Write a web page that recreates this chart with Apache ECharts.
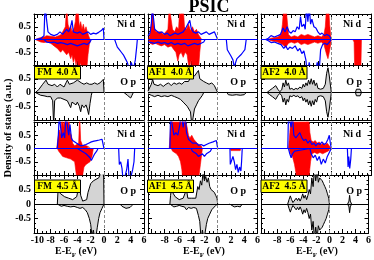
<!DOCTYPE html>
<html><head><meta charset="utf-8">
<script src="https://cdn.jsdelivr.net/npm/echarts@6/dist/echarts.min.js"></script>
<style>html,body{margin:0;padding:0;background:#fff}#c{width:374px;height:260px}</style>
</head><body><div id="c"></div>
<script>
// ---------- labels / ticks ----------
const title = 'PSIC';
const magnetic = ['FM', 'AF1', 'AF2'];
const spacing = ['4.0 Å', '4.5 Å'];
const orbitals = ['Ni d', 'O p'];
const energyTicks = [-10, -8, -6, -4, -2, 0, 2, 4, 6];
const yTitle = 'Density of states (a.u.)';

// ---------- data: [E - E_F (eV), DOS (a.u.)] ----------
// FM 4.0 Å
const fm40NiRedUp = [[-10.3,0],[-10.1,0.05],[-9.5,0.08],[-9,0.1],[-8.6,0.15],[-8.3,0.08],[-7.8,0.12],[-7.3,0.1],[-6.8,0.15],[-6.4,0.2],[-6.1,0.35],[-5.8,0.5],[-5.6,1.3],[-5.4,0.6],[-5.2,0.4],[-5.0,0.55],[-4.8,0.3],[-4.5,0.45],[-4.3,0.7],[-4.1,1.3],[-3.9,1.2],[-3.7,0.5],[-3.5,0.7],[-3.3,0.4],[-3.1,0.6],[-2.9,0.35],[-2.7,0.5],[-2.5,0.3],[-2.3,0.15],[-2.1,0]];
const fm40NiRedDn = [[-10.3,0],[-10,-0.05],[-9.5,-0.1],[-9,-0.12],[-8.5,-0.1],[-8,-0.15],[-7.5,-0.25],[-7,-0.35],[-6.5,-0.5],[-6.2,-0.4],[-5.9,-0.35],[-5.6,-0.6],[-5.3,-0.5],[-5,-0.75],[-4.8,-0.6],[-4.6,-0.9],[-4.4,-0.7],[-4.2,-1.0],[-4.0,-0.8],[-3.8,-1.2],[-3.5,-0.9],[-3.3,-1.2],[-3.0,-1.1],[-2.8,-1.3],[-2.6,-1.2],[-2.4,-0.6],[-2.2,-0.2],[-2.0,0]];
const fm40NiBlueUp = [[-10.3,0],[-10,0.03],[-9.4,0.05],[-9.0,0.15],[-8.85,1.3],[-8.6,1.3],[-8.4,0.3],[-8.0,0.2],[-7.5,0.15],[-7.0,0.2],[-6.6,0.3],[-6.2,0.2],[-5.9,0.25],[-5.6,0.4],[-5.3,0.3],[-5.0,0.5],[-4.8,0.75],[-4.6,0.3],[-4.3,0.35],[-4.0,0.25],[-3.6,0.3],[-3.2,0.2],[-2.8,0.25],[-2.4,0.3],[-2.0,0.2],[-1.6,0.25],[-1.2,0.22],[-0.8,0.28],[-0.4,0.35],[-0.1,0.45],[0,0]];
const fm40NiBlueDn = [[-9,0],[-8.6,-0.1],[-8,-0.12],[-7.5,-0.1],[-7,-0.15],[-6.5,-0.12],[-6,-0.15],[-5.5,-0.2],[-5,-0.15],[-4.5,-0.2],[-4,-0.25],[-3.5,-0.2],[-3,-0.15],[-2.5,-0.2],[-2.1,-0.1],[-1.9,0]];
const fm40NiBlueCb = [[1.6,0],[1.8,-0.15],[2.0,-0.3],[2.3,-0.4],[2.6,-0.5],[2.9,-0.6],[3.2,-0.75],[3.5,-0.9],[3.8,-1.2],[4.1,-0.9],[4.4,-1.2],[4.7,-0.8],[4.9,-0.3],[5.0,0]];
const fm40OpUp = [[-10.3,0],[-10.1,0.05],[-9.8,0.1],[-9.5,0.2],[-9.2,0.3],[-9.0,0.25],[-8.7,0.45],[-8.4,0.3],[-8.1,0.35],[-7.8,0.25],[-7.4,0.3],[-7.0,0.2],[-6.6,0.3],[-6.3,0.25],[-6.0,0.2],[-5.7,0.35],[-5.5,0.45],[-5.2,0.3],[-4.9,0.25],[-4.6,0.35],[-4.3,0.3],[-4.0,0.45],[-3.7,0.5],[-3.4,0.35],[-3.0,0.3],[-2.6,0.35],[-2.2,0.3],[-1.8,0.3],[-1.4,0.35],[-1.0,0.3],[-0.6,0.35],[-0.3,0.4],[-0.1,0.48],[0,0]];
const fm40OpDn = [[-10.3,0],[-10,-0.05],[-9.5,-0.1],[-9,-0.12],[-8.5,-0.15],[-8,-0.15],[-7.7,-0.3],[-7.55,-1.2],[-7.4,-0.3],[-7.0,-0.2],[-6.5,-0.2],[-6.0,-0.25],[-5.5,-0.3],[-5.2,-0.35],[-5.0,-0.55],[-4.8,-0.35],[-4.5,-0.3],[-4.2,-0.45],[-4.0,-0.35],[-3.7,-0.5],[-3.5,-0.7],[-3.3,-0.45],[-3.0,-0.55],[-2.7,-0.45],[-2.5,-0.6],[-2.3,-0.8],[-2.1,-0.4],[-1.9,-0.1],[-1.8,0]];
const fm40OpCb = [[3.0,0],[3.2,-0.05],[3.5,-0.1],[3.8,-0.08],[4.0,-0.2],[4.2,-0.1],[4.4,0]];
// AF1 4.0 Å
const af140NiRedUp = [[-10.4,0],[-10.2,0.2],[-10.0,0.6],[-9.8,1.3],[-9.6,0.5],[-9.3,0.3],[-9.0,0.25],[-8.6,0.3],[-8.2,0.2],[-7.8,0.3],[-7.5,0.4],[-7.3,1.3],[-7.0,1.3],[-6.8,0.4],[-6.5,0.3],[-6.2,0.5],[-5.9,0.4],[-5.7,1.3],[-5.4,1.0],[-5.2,1.3],[-5.0,0.5],[-4.7,0.4],[-4.4,0.6],[-4.1,0.35],[-3.8,0.5],[-3.5,0.3],[-3.2,0.4],[-2.9,0.2],[-2.6,0.15],[-2.4,0]];
const af140NiRedDn = [[-10.4,0],[-10.2,-0.15],[-9.8,-0.2],[-9.4,-0.15],[-9.0,-0.2],[-8.5,-0.25],[-8.0,-0.2],[-7.5,-0.3],[-7.0,-0.25],[-6.6,-0.4],[-6.3,-0.5],[-6.0,-0.85],[-5.8,-0.6],[-5.5,-0.5],[-5.2,-0.7],[-4.9,-0.5],[-4.6,-0.6],[-4.3,-1.2],[-4.0,-0.8],[-3.8,-1.2],[-3.5,-1.2],[-3.2,-1.1],[-2.9,-1.2],[-2.7,-0.5],[-2.5,0]];
const af140NiBlueUp = [[-10.5,0.15],[-10.2,0.25],[-10.0,0.6],[-9.85,1.3],[-9.65,1.3],[-9.5,0.4],[-9.2,0.35],[-8.8,0.25],[-8.4,0.3],[-8.0,0.2],[-7.6,0.25],[-7.2,0.15],[-6.8,0.2],[-6.4,0.25],[-6.0,0.2],[-5.6,0.25],[-5.2,0.3],[-4.8,0.45],[-4.5,0.4],[-4.2,0.75],[-4.0,0.45],[-3.7,0.3],[-3.3,0.25],[-2.9,0.3],[-2.5,0.2],[-2.1,0.25],[-1.7,0.3],[-1.3,0.2],[-0.9,0.25],[-0.5,0.3],[-0.2,0.3],[0,0]];
const af140NiBlueDn = [[-10.5,-0.1],[-10,-0.12],[-9.5,-0.15],[-9,-0.1],[-8.5,-0.15],[-8,-0.12],[-7.5,-0.18],[-7,-0.12],[-6.5,-0.2],[-6,-0.15],[-5.5,-0.2],[-5,-0.15],[-4.5,-0.25],[-4,-0.2],[-3.5,-0.15],[-3,-0.2],[-2.5,-0.15],[-2.1,-0.1],[-1.9,0]];
const af140NiBlueCb = [[1.3,0],[1.45,-0.4],[1.7,-0.45],[2.0,-0.65],[2.3,-0.8],[2.5,-1.1],[2.7,-0.9],[2.9,-0.75],[3.2,-0.7],[3.5,-0.6],[3.8,-0.5],[4.1,-0.4],[4.2,-0.2],[4.3,0]];
const af140OpUp = [[-10.5,0.05],[-10.2,0.12],[-10.0,0.3],[-9.8,0.48],[-9.6,0.3],[-9.3,0.35],[-9.0,0.25],[-8.6,0.3],[-8.2,0.22],[-7.8,0.3],[-7.4,0.35],[-7.0,0.25],[-6.6,0.35],[-6.2,0.3],[-5.8,0.35],[-5.4,0.3],[-5.0,0.4],[-4.7,0.45],[-4.4,0.4],[-4.1,0.55],[-3.8,0.5],[-3.5,0.6],[-3.2,0.55],[-2.9,0.8],[-2.7,0.5],[-2.4,0.45],[-2.1,0.4],[-1.7,0.35],[-1.3,0.3],[-0.9,0.35],[-0.5,0.25],[-0.2,0.2],[0,0]];
const af140OpDn = [[-10.5,-0.05],[-10,-0.1],[-9.5,-0.15],[-9,-0.1],[-8.5,-0.15],[-8,-0.12],[-7.5,-0.15],[-7,-0.1],[-6.5,-0.15],[-6,-0.2],[-5.6,-0.25],[-5.2,-0.35],[-4.9,-0.3],[-4.6,-0.5],[-4.3,-0.45],[-4.1,-0.7],[-3.9,-1.2],[-3.7,-0.9],[-3.5,-0.6],[-3.2,-0.45],[-2.9,-0.3],[-2.6,-0.2],[-2.3,-0.1],[-2.1,0]];
const af140OpCb = [[1.4,0],[1.6,-0.08],[2.2,-0.1],[2.8,-0.08],[3.4,-0.1],[4.0,-0.08],[4.3,0]];
// AF2 4.0 Å
const af240NiRedUp = [[-9.5,0],[-9,0.05],[-8.5,0.08],[-8,0.1],[-7.5,0.2],[-7.3,0.6],[-7.1,1.3],[-6.8,1.3],[-6.6,0.8],[-6.4,0.2],[-6.0,0.1],[-5.5,0.15],[-5.0,0.1],[-4.5,0.2],[-4.0,0.15],[-3.5,0.2],[-3.0,0.15],[-2.5,0.1],[-2.0,0.15],[-1.5,0.1],[-1.1,0.2],[-0.9,0.5],[-0.7,1.3],[-0.4,1.3],[-0.25,0.6],[-0.1,0.2],[0,0]];
const af240NiRedDn = [[-9.5,0],[-9,-0.05],[-8.5,-0.08],[-8,-0.1],[-7.3,-0.2],[-6.8,-0.3],[-6.4,-0.15],[-6,-0.1],[-5.5,-0.15],[-5,-0.1],[-4.5,-0.2],[-4,-0.15],[-3.5,-0.2],[-3,-0.15],[-2.5,-0.1],[-2,-0.15],[-1.5,-0.1],[-1.1,-0.2],[-0.9,-0.4],[-0.7,-0.6],[-0.5,-0.75],[-0.3,-0.5],[-0.1,-0.2],[0,0]];
const af240NiRedCb = [[3.2,0],[3.4,-0.1],[3.5,-1.3],[4.4,-1.3],[4.5,0]];
const af240NiBlueUp = [[-9.8,0],[-9.4,0.05],[-9.0,0.15],[-8.5,0.1],[-8.0,0.15],[-7.6,0.2],[-7.2,0.45],[-6.9,0.3],[-6.6,0.5],[-6.3,0.3],[-6.0,0.25],[-5.7,0.35],[-5.4,0.3],[-5.1,0.5],[-4.8,0.4],[-4.6,0.9],[-4.4,0.5],[-4.1,0.6],[-3.9,0.4],[-3.7,1.3],[-3.5,0.7],[-3.3,1.3],[-3.1,0.6],[-2.9,0.8],[-2.6,0.5],[-2.3,0.45],[-2.0,0.3],[-1.7,0.2],[-1.4,0.25],[-1.0,0.15],[-0.7,0.2],[-0.3,0.15],[-0.1,0.1],[0,0]];
const af240NiBlueDn = [[-9.8,0],[-9.4,-0.05],[-9,-0.12],[-8.5,-0.1],[-8,-0.15],[-7.5,-0.2],[-7.1,-0.35],[-6.8,-0.25],[-6.5,-0.4],[-6.2,-0.3],[-5.8,-0.35],[-5.4,-0.25],[-5.0,-0.45],[-4.7,-0.35],[-4.4,-0.55],[-4.1,-0.45],[-3.8,-0.8],[-3.6,-1.3],[-3.3,-0.9],[-3.0,-1.3],[-2.7,-1.2],[-2.4,-1.3],[-2.1,-0.9],[-1.8,-1.2],[-1.6,-0.4],[-1.3,-0.2],[-1.0,-0.15],[-0.6,-0.2],[-0.3,-0.1],[0,0]];
const af240OpUp = [[-9.6,0],[-9.2,0.08],[-8.8,0.15],[-8.3,0.25],[-8.0,0.12],[-7.7,0.03],[-7.4,0.1],[-7.2,0.35],[-7.0,0.2],[-6.8,0.45],[-6.6,0.25],[-6.4,0.35],[-6.2,0.12],[-5.9,0.15],[-5.6,0.1],[-5.3,0.15],[-5.0,0.12],[-4.7,0.2],[-4.4,0.15],[-4.2,0.3],[-4.0,0.2],[-3.8,0.35],[-3.6,0.25],[-3.4,0.45],[-3.2,0.3],[-3.0,0.5],[-2.8,0.3],[-2.6,0.45],[-2.4,0.25],[-2.2,0.35],[-2.0,0.15],[-1.6,0.12],[-1.2,0.15],[-0.9,0.3],[-0.7,0.7],[-0.5,0.9],[-0.3,0.6],[-0.1,0.2],[0,0]];
const af240OpDn = [[-9.6,0],[-9.2,-0.08],[-8.8,-0.15],[-8.3,-0.25],[-8.0,-0.12],[-7.7,-0.03],[-7.4,-0.12],[-7.2,-0.35],[-7.0,-0.2],[-6.8,-0.45],[-6.6,-0.25],[-6.4,-0.35],[-6.2,-0.12],[-5.9,-0.15],[-5.6,-0.1],[-5.3,-0.15],[-5.0,-0.12],[-4.7,-0.2],[-4.4,-0.15],[-4.2,-0.3],[-4.0,-0.2],[-3.8,-0.35],[-3.6,-0.25],[-3.4,-0.45],[-3.2,-0.3],[-3.0,-0.5],[-2.8,-0.3],[-2.6,-0.45],[-2.4,-0.25],[-2.2,-0.35],[-2.0,-0.15],[-1.6,-0.12],[-1.2,-0.15],[-0.9,-0.3],[-0.7,-0.7],[-0.5,-0.9],[-0.3,-0.6],[-0.1,-0.2],[0,0]];
const af240OpCbUp = [[3.6,0],[3.75,0.12],[4.0,0.15],[4.3,0.12],[4.5,0]];
const af240OpCbDn = [[3.6,0],[3.75,-0.12],[4.0,-0.15],[4.3,-0.12],[4.5,0]];
// FM 4.5 Å
const fm45NiRedUp = [[-7.1,0],[-6.9,0.4],[-6.7,0.7],[-6.5,0.5],[-6.3,1.3],[-6.1,0.8],[-5.9,1.3],[-5.7,1.3],[-5.5,0.9],[-5.3,1.3],[-5.1,0.6],[-4.9,0.5],[-4.7,0.2],[-4.4,0.1],[-4.1,0.12],[-3.8,0.2],[-3.65,1.3],[-3.5,0.3],[-3.2,0.1],[-2.8,0.12],[-2.5,0.08],[-2.2,0.05],[-2.0,0]];
const fm45NiRedDn = [[-7.0,0],[-6.8,-0.1],[-6.5,-0.2],[-6.2,-0.3],[-5.9,-0.25],[-5.6,-0.35],[-5.3,-0.3],[-5.0,-0.4],[-4.7,-0.35],[-4.4,-0.5],[-4.2,-0.9],[-4.0,-1.3],[-3.7,-1.3],[-3.4,-1.3],[-3.2,-1.0],[-3.0,-0.7],[-2.7,-0.6],[-2.4,-0.65],[-2.1,-0.5],[-1.8,-0.3],[-1.6,0]];
const fm45NiBlueUp = [[-7.0,0],[-6.85,0.5],[-6.7,1.3],[-6.5,1.3],[-6.35,0.4],[-6.1,0.6],[-5.9,0.4],[-5.7,1.3],[-5.5,1.3],[-5.3,0.5],[-5.1,0.9],[-4.9,0.4],[-4.7,0.3],[-4.4,0.25],[-4.1,0.2],[-3.8,0.15],[-3.5,0.1],[-3.1,0.12],[-2.7,0.15],[-2.3,0.2],[-1.9,0.25],[-1.5,0.28],[-1.1,0.3],[-0.7,0.32],[-0.3,0.35],[-0.1,0.4],[0,0]];
const fm45NiBlueDn = [[-4.0,0],[-3.7,-0.05],[-3.3,-0.1],[-3.0,-0.12],[-2.7,-0.2],[-2.4,-0.25],[-2.1,-0.35],[-1.9,-0.45],[-1.7,-0.4],[-1.4,-0.2],[-1.1,-0.1],[-0.9,0]];
const fm45NiBlueCb = [[2.2,0],[2.3,-0.6],[2.5,-0.5],[2.7,-0.75],[2.9,-1.3],[3.2,-1.3],[3.4,-0.8],[3.6,-0.4],[3.8,-1.3],[4.1,-1.3],[4.3,-0.8],[4.5,-0.5],[4.6,0]];
const fm45OpUp = [[-7.0,0],[-6.9,0.45],[-6.7,0.5],[-6.5,0.35],[-6.2,0.3],[-5.9,0.25],[-5.6,0.2],[-5.3,0.2],[-5.0,0.15],[-4.7,0.15],[-4.4,0.2],[-4.1,0.25],[-3.8,0.3],[-3.65,0.75],[-3.5,0.3],[-3.2,0.1],[-2.9,0.1],[-2.6,0.15],[-2.4,0.4],[-2.2,0.55],[-2.0,0.7],[-1.8,0.65],[-1.6,0.8],[-1.4,0.75],[-1.2,0.85],[-1.0,0.8],[-0.8,0.9],[-0.6,0.85],[-0.4,1.1],[-0.2,1.2],[-0.05,0.9],[0,0]];
const fm45OpDn = [[-7.0,0],[-6.8,-0.05],[-6.4,-0.08],[-6.0,-0.05],[-5.5,-0.08],[-5.0,-0.1],[-4.5,-0.08],[-4.0,-0.12],[-3.6,-0.15],[-3.2,-0.12],[-2.8,-0.2],[-2.5,-0.3],[-2.2,-0.5],[-2.0,-0.7],[-1.8,-1.1],[-1.6,-0.9],[-1.4,-1.2],[-1.2,-1.1],[-1.0,-0.8],[-0.8,-0.5],[-0.6,-0.3],[-0.3,-0.15],[0,0]];
const fm45OpCb = [[2.4,0],[2.7,-0.08],[3.0,-0.1],[3.3,-0.15],[3.6,-0.2],[3.9,-0.12],[4.2,-0.05],[4.4,0]];
// AF1 4.5 Å
const af145NiRedUp = [[-7.3,0],[-7.1,0.8],[-6.9,1.3],[-6.5,1.3],[-6.2,1.3],[-5.9,1.3],[-5.6,1.3],[-5.3,1.3],[-5.0,1.3],[-4.8,1.0],[-4.6,0.8],[-4.4,0.5],[-4.2,0.4],[-3.9,0.5],[-3.6,0.35],[-3.3,0.4],[-3.1,0.2],[-2.8,0.15],[-2.5,0.1],[-2.3,0]];
const af145NiRedDn = [[-7.0,0],[-6.8,-0.1],[-6.5,-0.15],[-6.2,-0.2],[-5.9,-0.3],[-5.6,-0.5],[-5.4,-0.8],[-5.2,-1.3],[-4.9,-1.1],[-4.6,-1.3],[-4.3,-1.3],[-4.0,-1.3],[-3.7,-1.3],[-3.4,-1.2],[-3.1,-1.3],[-2.8,-1.0],[-2.6,-0.6],[-2.4,-0.2],[-2.3,0]];
const af145NiRedCb = [[1.9,0],[2.0,-0.08],[3.4,-0.08],[3.5,0]];
const af145NiBlueUp = [[-7.2,0],[-7.1,1.3],[-6.8,1.3],[-6.6,0.5],[-6.3,0.6],[-6.0,0.5],[-5.7,0.9],[-5.5,1.3],[-5.2,0.8],[-4.9,1.3],[-4.7,0.6],[-4.4,0.35],[-4.1,0.3],[-3.8,0.2],[-3.5,0.15],[-3.2,0.2],[-2.9,0.12],[-2.5,0.15],[-2.1,0.1],[-1.7,0.15],[-1.3,0.2],[-1.0,0.15],[-0.7,0.25],[-0.4,0.2],[-0.2,0.3],[0,0]];
const af145NiBlueDn = [[-4.0,0],[-3.8,-0.1],[-3.5,-0.15],[-3.2,-0.2],[-2.9,-0.3],[-2.6,-0.25],[-2.3,-0.2],[-2.0,-0.3],[-1.7,-0.2],[-1.4,-0.25],[-1.1,-0.1],[-0.9,0]];
const af145NiBlueCb = [[1.85,0],[1.9,-0.6],[2.1,-0.55],[2.3,-0.3],[2.5,-0.5],[2.7,-0.8],[2.9,-0.6],[3.1,-0.9],[3.3,-0.7],[3.5,-0.85],[3.6,-0.5],[3.7,0]];
const af145OpUp = [[-7.2,0],[-7.1,0.3],[-6.95,0.55],[-6.8,0.4],[-6.6,0.35],[-6.4,0.25],[-6.1,0.2],[-5.8,0.15],[-5.5,0.15],[-5.2,0.2],[-4.9,0.25],[-4.7,0.5],[-4.5,0.2],[-4.2,0.15],[-3.9,0.2],[-3.6,0.15],[-3.3,0.2],[-3.0,0.6],[-2.8,0.5],[-2.6,0.8],[-2.4,0.65],[-2.2,1.1],[-2.0,0.8],[-1.8,0.95],[-1.6,0.75],[-1.4,0.9],[-1.2,0.6],[-1.0,0.5],[-0.8,0.45],[-0.5,0.4],[-0.3,0.3],[-0.1,0.2],[0,0]];
const af145OpDn = [[-7.2,0],[-7.0,-0.05],[-6.6,-0.1],[-6.2,-0.08],[-5.8,-0.05],[-5.4,-0.08],[-5.0,-0.1],[-4.7,-0.2],[-4.4,-0.12],[-4.0,-0.15],[-3.6,-0.12],[-3.2,-0.15],[-2.9,-0.4],[-2.7,-0.6],[-2.5,-1.2],[-2.3,-0.9],[-2.1,-1.2],[-1.9,-1.0],[-1.7,-0.7],[-1.5,-0.5],[-1.2,-0.35],[-0.9,-0.2],[-0.6,-0.15],[-0.3,-0.05],[0,0]];
const af145OpCb = [[1.8,0],[2.1,-0.05],[2.5,-0.1],[3.0,-0.08],[3.4,-0.1],[3.7,0]];
// AF2 4.5 Å
const af245NiRedUp = [[-6.4,0],[-6.2,0.6],[-6.0,1.3],[-5.7,1.3],[-5.4,1.3],[-5.1,1.3],[-4.8,1.3],[-4.5,1.3],[-4.2,1.3],[-3.9,1.3],[-3.6,1.0],[-3.4,1.3],[-3.2,0.6],[-3.0,0.3],[-2.7,0.25],[-2.4,0.3],[-2.1,0.2],[-1.8,0.25],[-1.5,0.15],[-1.2,0.2],[-0.9,0.15],[-0.6,0.2],[-0.3,0.1],[0,0]];
const af245NiRedDn = [[-6.3,0],[-6.1,-0.2],[-5.8,-0.3],[-5.5,-0.6],[-5.3,-0.9],[-5.1,-1.3],[-4.8,-1.3],[-4.5,-1.3],[-4.2,-1.3],[-3.9,-1.3],[-3.6,-1.3],[-3.3,-1.0],[-3.1,-0.5],[-2.9,-0.2],[-2.5,-0.15],[-2.1,-0.2],[-1.7,-0.15],[-1.3,-0.2],[-0.9,-0.15],[-0.5,-0.1],[-0.2,-0.05],[0,0]];
const af245NiBlueUp = [[-6.5,0],[-6.4,1.3],[-6.2,1.3],[-6.0,0.8],[-5.8,1.3],[-5.6,0.5],[-5.3,0.4],[-5.0,0.5],[-4.7,0.6],[-4.4,0.4],[-4.1,0.3],[-3.8,0.35],[-3.5,0.2],[-3.2,0.3],[-2.9,0.15],[-2.6,0.2],[-2.3,0.1],[-2.0,0.2],[-1.7,0.15],[-1.4,0.25],[-1.1,0.15],[-0.8,0.2],[-0.5,0.35],[-0.3,0.5],[-0.15,0.2],[0,0]];
const af245NiBlueDn = [[-6.4,0],[-6.2,-0.2],[-6.0,-0.35],[-5.8,-0.2],[-5.5,-0.1],[-3.2,0],[-3.0,-0.2],[-2.7,-0.35],[-2.4,-0.25],[-2.1,-0.45],[-1.8,-0.3],[-1.5,-0.6],[-1.2,-0.4],[-0.9,-0.55],[-0.6,-0.3],[-0.3,-0.15],[0,0]];
const af245NiBlueCb = [[2.4,0],[2.5,-0.7],[2.6,-0.3],[2.75,-0.75],[2.9,-0.4],[3.0,0]];
const af245OpUp = [[-6.4,0],[-6.2,0.15],[-6.0,0.28],[-5.8,0.15],[-5.6,0.05],[-5.3,0.08],[-5.1,0.2],[-4.9,0.12],[-4.7,0.2],[-4.5,0.1],[-4.3,0.2],[-4.1,0.35],[-3.9,0.2],[-3.7,0.3],[-3.5,0.15],[-3.3,0.3],[-3.1,0.5],[-2.9,0.35],[-2.7,0.9],[-2.5,0.6],[-2.3,1.2],[-2.1,0.8],[-1.9,1.2],[-1.7,0.75],[-1.5,0.9],[-1.3,0.85],[-1.1,0.8],[-0.9,0.7],[-0.7,0.6],[-0.5,0.5],[-0.3,0.35],[-0.1,0.2],[0,0]];
const af245OpDn = [[-6.4,0],[-6.2,-0.15],[-6.0,-0.28],[-5.8,-0.15],[-5.6,-0.05],[-5.3,-0.08],[-5.1,-0.2],[-4.9,-0.12],[-4.7,-0.2],[-4.5,-0.1],[-4.3,-0.2],[-4.1,-0.35],[-3.9,-0.2],[-3.7,-0.3],[-3.5,-0.15],[-3.3,-0.3],[-3.1,-0.5],[-2.9,-0.35],[-2.7,-0.9],[-2.5,-0.6],[-2.3,-1.2],[-2.1,-0.8],[-1.9,-1.2],[-1.7,-0.75],[-1.5,-0.9],[-1.3,-0.85],[-1.1,-0.8],[-0.9,-0.7],[-0.7,-0.6],[-0.5,-0.5],[-0.3,-0.35],[-0.1,-0.2],[0,0]];
const af245OpCbUp = [[2.8,0],[3.0,0.1],[3.1,0.3],[3.2,0.1],[3.4,0]];
const af245OpCbDn = [[2.8,0],[3.0,-0.1],[3.1,-0.3],[3.2,-0.1],[3.4,0]];

// panel index = block*3 + col (block 0: 4.0 Å, block 1: 4.5 Å)
const niRed = [[fm40NiRedUp,fm40NiRedDn],[af140NiRedUp,af140NiRedDn],[af240NiRedUp,af240NiRedDn,af240NiRedCb],
               [fm45NiRedUp,fm45NiRedDn],[af145NiRedUp,af145NiRedDn,af145NiRedCb],[af245NiRedUp,af245NiRedDn]];
const niBlue = [[fm40NiBlueUp,fm40NiBlueDn,fm40NiBlueCb],[af140NiBlueUp,af140NiBlueDn,af140NiBlueCb],[af240NiBlueUp,af240NiBlueDn],
                [fm45NiBlueUp,fm45NiBlueDn,fm45NiBlueCb],[af145NiBlueUp,af145NiBlueDn,af145NiBlueCb],[af245NiBlueUp,af245NiBlueDn,af245NiBlueCb]];
const opDos = [[fm40OpUp,fm40OpDn,fm40OpCb],[af140OpUp,af140OpDn,af140OpCb],[af240OpUp,af240OpDn,af240OpCbUp,af240OpCbDn],
               [fm45OpUp,fm45OpDn,fm45OpCb],[af145OpUp,af145OpDn,af145OpCb],[af245OpUp,af245OpDn,af245OpCbUp,af245OpCbDn]];

// ---------- layout ----------
const FONT = '"Liberation Serif","Times New Roman",serif';
const gridLeft = [34, 148, 261], gridWidth = [110, 109.5, 110.5];
const gridTop = [14, 65, 122, 175], gridHeight = [51, 55, 53, 58];
const minorX = [];
for (let k = -10; k < 6; k += 2) { minorX.push(k + 2/3, k + 4/3); }

const grids = [], xAxes = [], yAxes = [], series = [], graphic = [];
for (let row = 0; row < 4; row++) {
  for (let col = 0; col < 3; col++) {
    const g = row * 3 + col;
    grids.push({left: gridLeft[col], top: gridTop[row], width: gridWidth[col], height: gridHeight[row]});
    const base = {gridIndex: g, type: 'value', min: -10.5, max: 6, splitLine: {show: false},
      axisLine: {show: true, onZero: false, lineStyle: {color: '#000', width: 1}}};
    const tickMaj = {show: true, inside: true, length: 4, customValues: energyTicks, lineStyle: {color: '#000', width: 1}};
    const tickMin = {show: true, inside: true, length: 2, customValues: minorX, lineStyle: {color: '#000', width: 1}};
    xAxes.push(Object.assign({}, base, {position: 'bottom', axisTick: tickMaj,
      axisLabel: {show: row === 3, customValues: col === 0 ? energyTicks : energyTicks.slice(1), margin: 2,
        color: '#000', fontFamily: FONT, fontWeight: 'bold', fontSize: 10}}));
    xAxes.push(Object.assign({}, base, {position: 'top', axisTick: tickMaj, axisLabel: {show: false}}));
    xAxes.push(Object.assign({}, base, {position: 'bottom', axisLine: {show: false, onZero: false}, axisTick: tickMin, axisLabel: {show: false}}));
    xAxes.push(Object.assign({}, base, {position: 'top', axisLine: {show: false, onZero: false}, axisTick: tickMin, axisLabel: {show: false}}));
    const ybase = {gridIndex: g, type: 'value', min: -1, max: 1, interval: 0.5, splitLine: {show: false},
      axisLine: {show: true, onZero: false, lineStyle: {color: '#000', width: 1}},
      axisTick: {show: true, inside: true, length: 4, lineStyle: {color: '#000'}},
      minorTick: {show: true, splitNumber: 3, length: 2, lineStyle: {color: '#000'}},
      minorSplitLine: {show: false}};
    yAxes.push(Object.assign({}, ybase, {position: 'left',
      axisLabel: {show: col === 0, margin: 3, color: '#000', fontFamily: FONT, fontWeight: 'bold', fontSize: 10,
        formatter: v => (Math.abs(v) > 0.9 ? '' : String(v))}}));
    yAxes.push(Object.assign({}, ybase, {position: 'right', axisLabel: {show: false}}));

    const block = row >> 1, isNi = (row % 2 === 0), p = block * 3 + col;
    const xi = g * 4, yi = g * 2;
    const refLines = {silent: true, symbol: 'none', animation: false, label: {show: false},
      data: [
        {yAxis: 0, lineStyle: {color: isNi ? '#0000ff' : '#000', width: 1, type: 'solid'}},
        {xAxis: 0, lineStyle: {color: '#888', width: 1, type: [3, 2]}}
      ]};
    if (isNi) {
      niRed[p].forEach(d => series.push({type: 'line', xAxisIndex: xi, yAxisIndex: yi, data: d, symbol: 'none',
        lineStyle: {color: '#ff0000', width: 0.6}, areaStyle: {color: '#ff0000', opacity: 1, origin: 0}, z: 2, animation: false}));
      niBlue[p].forEach((d, i) => series.push({type: 'line', xAxisIndex: xi, yAxisIndex: yi, data: d, symbol: 'none',
        lineStyle: {color: '#0000ff', width: 1.2}, z: 3, animation: false,
        markLine: i === 0 ? refLines : undefined}));
    } else {
      opDos[p].forEach((d, i) => series.push({type: 'line', xAxisIndex: xi, yAxisIndex: yi, data: d, symbol: 'none',
        lineStyle: {color: '#000', width: 1}, areaStyle: {color: '#d4d4d4', opacity: 1, origin: 0}, z: 2, animation: false,
        markLine: i === 0 ? refLines : undefined}));
    }
  }
}

// ---------- text annotations ----------
const font = (s) => 'bold ' + s + 'px ' + FONT;
graphic.push({type: 'text', x: 209, y: 7.5, z: 20, style: {text: title, font: font(18), fill: '#000', align: 'center', verticalAlign: 'middle'}});
graphic.push({type: 'text', x: 8, y: 128, rotation: Math.PI / 2,
  style: {text: yTitle, font: font(10.5), fill: '#000', align: 'center', verticalAlign: 'middle'}});
[76, 204, 317].forEach(cx => graphic.push({type: 'text', x: cx, y: 251,
  style: {text: 'E-E{s|F} (eV)', font: font(10), fill: '#000', align: 'center', verticalAlign: 'middle',
    rich: {s: {font: font(7), fill: '#000', verticalAlign: 'bottom', lineHeight: 15}}}}));
const labelRight = [135, 245, 361];
const niY = [24, 134], opY = [82, 191];
const boxLeft = [34.5, 147.5, 261], boxTop = [66.5, 180];
for (let b = 0; b < 2; b++) {
  for (let col = 0; col < 3; col++) {
    graphic.push({type: 'text', x: labelRight[col], y: niY[b], z: 10,
      style: {text: orbitals[0], font: font(10), fill: '#000', align: 'right', verticalAlign: 'middle'}});
    graphic.push({type: 'text', x: labelRight[col] + 1, y: opY[b], z: 10,
      style: {text: orbitals[1], font: font(10), fill: '#000', align: 'right', verticalAlign: 'middle'}});
    graphic.push({type: 'rect', z: 10, shape: {x: boxLeft[col], y: boxTop[b], width: 46, height: 12.5},
      style: {fill: '#ffff00', stroke: '#000', lineWidth: 1}});
    graphic.push({type: 'text', z: 11, x: boxLeft[col] + 23, y: boxTop[b] + 6.5,
      style: {text: magnetic[col] + '  ' + spacing[b], font: font(9.5), fill: '#000', align: 'center', verticalAlign: 'middle'}});
  }
}

const chart = echarts.init(document.getElementById('c'), null, {renderer: 'canvas'});
chart.setOption({animation: false, backgroundColor: '#fff', grid: grids, xAxis: xAxes, yAxis: yAxes, series: series, graphic: graphic});
</script></body></html>
